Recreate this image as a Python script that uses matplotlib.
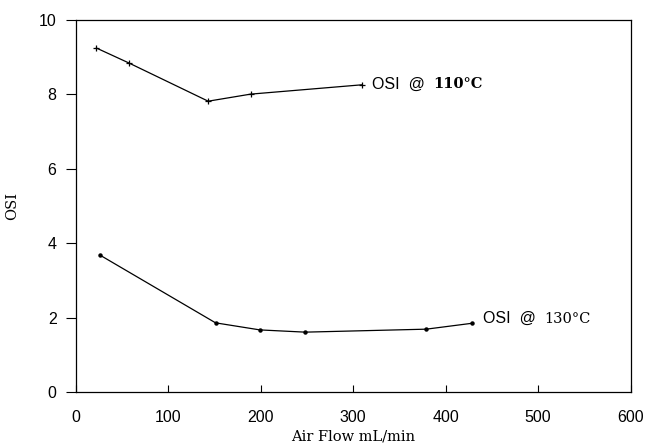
import numpy as np
import matplotlib.pyplot as plt

# air flow (mL/min) vs OSI
flow_110 = [22, 57, 143, 189, 309]
osi_110 = [9.25, 8.85, 7.82, 8.01, 8.26]

flow_130 = [26, 151, 199, 248, 379, 429]
osi_130 = [3.68, 1.86, 1.67, 1.61, 1.69, 1.85]

xticks = [0, 100, 200, 300, 400, 500, 600]
yticks = [0, 2, 4, 6, 8, 10]

plt.rcParams['font.family'] = ['Liberation Sans', 'DejaVu Sans']

fig = plt.figure(figsize=(6.47, 4.47), dpi=100)
ax = fig.add_axes([0.1175, 0.123, 0.857, 0.832])

ax.plot(flow_110, osi_110, color='k', lw=0.9, marker='+', ms=5, mew=0.9)
ax.plot(flow_130, osi_130, color='k', lw=0.9, marker='o', ms=2.2)

ax.set_xlim(0, 600)
ax.set_ylim(0, 10)
ax.set_xticks(xticks)
ax.set_yticks(yticks)
ax.tick_params(axis='x', direction='in', length=5, labelsize=11.5, pad=13)
ax.tick_params(axis='y', direction='out', length=7, labelsize=11.5, pad=7)
for s in ax.spines.values():
    s.set_linewidth(0.9)

ax.set_xlabel('Air Flow mL/min', family='DejaVu Serif', fontsize=10.5, labelpad=3)
ax.set_ylabel('OSI', family='DejaVu Serif', fontsize=10.5, labelpad=14)

# curve labels: sans "OSI @" plus serif temperature right after it
t1 = ax.text(320, 8.27, 'OSI  @', fontsize=11.5, va='center', ha='left')
ax.annotate('110°C', xy=(1, 0.5), xycoords=t1, xytext=(6, 0), textcoords='offset points',
            family='DejaVu Serif', fontweight='bold', fontsize=10.5, va='center', ha='left')
t2 = ax.text(440, 1.97, 'OSI  @', fontsize=11.5, va='center', ha='left')
ax.annotate('130°C', xy=(1, 0.5), xycoords=t2, xytext=(6, 0), textcoords='offset points',
            family='DejaVu Serif', fontsize=10.5, va='center', ha='left')

fig.savefig('out.png', dpi=100)
